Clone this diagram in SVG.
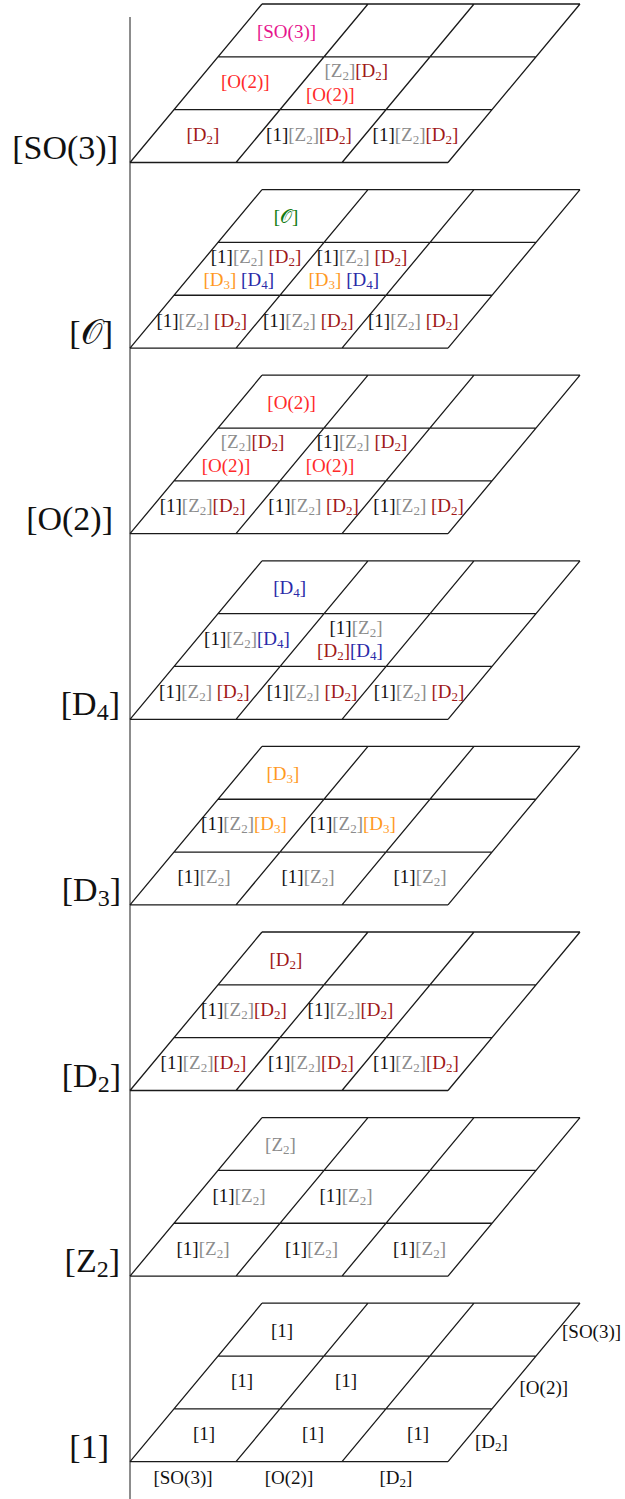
<svg xmlns="http://www.w3.org/2000/svg" width="625" height="1499" viewBox="0 0 625 1499">
<style>
.t{font-family:"Liberation Serif","DejaVu Serif",serif;font-size:19px;text-anchor:middle;fill:#111}
.L{font-size:34px;text-anchor:end}
.st{text-anchor:start}
.s{font-size:13px;baseline-shift:-3px}
.L .s{font-size:24px;baseline-shift:-5px}
.g{fill:#8c8c8c}.r{fill:#a01818}.o{fill:#ff2a2a}.m{fill:#e6148c}.gr{fill:#117a11}.y{fill:#ff9a1f}.b{fill:#2a2aa8}
.grid{fill:none;stroke:#1a1a1a;stroke-width:1.3}
.axis{stroke:#1a1a1a;stroke-width:1}
</style>
<defs>
<path id="grid" class="grid" d="M130,0H448M174,-52.83H492M218,-105.67H536M262,-158.5H580M130,0L262,-158.5M236,0L368,-158.5M342,0L474,-158.5M448,0L580,-158.5"/>
</defs>
<g id="connectors">
<line class="axis" x1="130" y1="17" x2="130" y2="1499"/>
</g>
<g id="layer-SO3">
<use href="#grid" y="162.5"/>
<text class="t L" x="118" y="158.5">[SO(3)]</text>
<text class="t r" x="203" y="141">[D<tspan class="s">2</tspan>]</text>
<text class="t" x="309" y="141">[1]<tspan class="g">[Z<tspan class="s">2</tspan>]</tspan><tspan class="r">[D<tspan class="s">2</tspan>]</tspan></text>
<text class="t" x="415.5" y="141">[1]<tspan class="g">[Z<tspan class="s">2</tspan>]</tspan><tspan class="r">[D<tspan class="s">2</tspan>]</tspan></text>
<text class="t o" x="245.3" y="88">[O(2)]</text>
<text class="t" x="356.3" y="77"><tspan class="g">[Z<tspan class="s">2</tspan>]</tspan><tspan class="r">[D<tspan class="s">2</tspan>]</tspan></text>
<text class="t o" x="330.3" y="100.5">[O(2)]</text>
<text class="t m" x="286.5" y="37.5">[SO(3)]</text>
</g>
<g id="layer-O">
<use href="#grid" y="348.1"/>
<text class="t L" x="113" y="344.1">[𝒪]</text>
<text class="t" x="201.7" y="326.6">[1]<tspan class="g">[Z<tspan class="s">2</tspan>]</tspan> <tspan class="r">[D<tspan class="s">2</tspan>]</tspan></text>
<text class="t" x="308.3" y="326.6">[1]<tspan class="g">[Z<tspan class="s">2</tspan>]</tspan> <tspan class="r">[D<tspan class="s">2</tspan>]</tspan></text>
<text class="t" x="413.3" y="326.6">[1]<tspan class="g">[Z<tspan class="s">2</tspan>]</tspan> <tspan class="r">[D<tspan class="s">2</tspan>]</tspan></text>
<text class="t" x="256" y="262.6">[1]<tspan class="g">[Z<tspan class="s">2</tspan>]</tspan> <tspan class="r">[D<tspan class="s">2</tspan>]</tspan></text>
<text class="t" x="238.7" y="286.1"><tspan class="y">[D<tspan class="s">3</tspan>]</tspan> <tspan class="b">[D<tspan class="s">4</tspan>]</tspan></text>
<text class="t" x="362" y="262.6">[1]<tspan class="g">[Z<tspan class="s">2</tspan>]</tspan> <tspan class="r">[D<tspan class="s">2</tspan>]</tspan></text>
<text class="t" x="343.8" y="286.1"><tspan class="y">[D<tspan class="s">3</tspan>]</tspan> <tspan class="b">[D<tspan class="s">4</tspan>]</tspan></text>
<text class="t gr" x="286" y="223.1">[𝒪]</text>
</g>
<g id="layer-O2">
<use href="#grid" y="533.7"/>
<text class="t L" x="113" y="529.7">[O(2)]</text>
<text class="t" x="202.6" y="512.2">[1]<tspan class="g">[Z<tspan class="s">2</tspan>]</tspan><tspan class="r">[D<tspan class="s">2</tspan>]</tspan></text>
<text class="t" x="313.6" y="512.2">[1]<tspan class="g">[Z<tspan class="s">2</tspan>]</tspan> <tspan class="r">[D<tspan class="s">2</tspan>]</tspan></text>
<text class="t" x="418.6" y="512.2">[1]<tspan class="g">[Z<tspan class="s">2</tspan>]</tspan> <tspan class="r">[D<tspan class="s">2</tspan>]</tspan></text>
<text class="t" x="252.6" y="448.2"><tspan class="g">[Z<tspan class="s">2</tspan>]</tspan><tspan class="r">[D<tspan class="s">2</tspan>]</tspan></text>
<text class="t o" x="226" y="471.7">[O(2)]</text>
<text class="t" x="362" y="448.2">[1]<tspan class="g">[Z<tspan class="s">2</tspan>]</tspan> <tspan class="r">[D<tspan class="s">2</tspan>]</tspan></text>
<text class="t o" x="330" y="471.7">[O(2)]</text>
<text class="t o" x="291.6" y="408.7">[O(2)]</text>
</g>
<g id="layer-D4">
<use href="#grid" y="719.3"/>
<text class="t L" x="120" y="715.3">[D<tspan class="s">4</tspan>]</text>
<text class="t" x="204.4" y="697.8">[1]<tspan class="g">[Z<tspan class="s">2</tspan>]</tspan> <tspan class="r">[D<tspan class="s">2</tspan>]</tspan></text>
<text class="t" x="312" y="697.8">[1]<tspan class="g">[Z<tspan class="s">2</tspan>]</tspan> <tspan class="r">[D<tspan class="s">2</tspan>]</tspan></text>
<text class="t" x="419" y="697.8">[1]<tspan class="g">[Z<tspan class="s">2</tspan>]</tspan> <tspan class="r">[D<tspan class="s">2</tspan>]</tspan></text>
<text class="t" x="247" y="644.8">[1]<tspan class="g">[Z<tspan class="s">2</tspan>]</tspan><tspan class="b">[D<tspan class="s">4</tspan>]</tspan></text>
<text class="t" x="356" y="633.8">[1]<tspan class="g">[Z<tspan class="s">2</tspan>]</tspan></text>
<text class="t" x="350" y="657.3"><tspan class="r">[D<tspan class="s">2</tspan>]</tspan><tspan class="b">[D<tspan class="s">4</tspan>]</tspan></text>
<text class="t b" x="289.6" y="594.3">[D<tspan class="s">4</tspan>]</text>
</g>
<g id="layer-D3">
<use href="#grid" y="904.9"/>
<text class="t L" x="121" y="900.9">[D<tspan class="s">3</tspan>]</text>
<text class="t" x="204" y="883.4">[1]<tspan class="g">[Z<tspan class="s">2</tspan>]</tspan></text>
<text class="t" x="308" y="883.4">[1]<tspan class="g">[Z<tspan class="s">2</tspan>]</tspan></text>
<text class="t" x="420" y="883.4">[1]<tspan class="g">[Z<tspan class="s">2</tspan>]</tspan></text>
<text class="t" x="244" y="830.4">[1]<tspan class="g">[Z<tspan class="s">2</tspan>]</tspan><tspan class="y">[D<tspan class="s">3</tspan>]</tspan></text>
<text class="t" x="353" y="830.4">[1]<tspan class="g">[Z<tspan class="s">2</tspan>]</tspan><tspan class="y">[D<tspan class="s">3</tspan>]</tspan></text>
<text class="t y" x="283" y="779.9">[D<tspan class="s">3</tspan>]</text>
</g>
<g id="layer-D2">
<use href="#grid" y="1090.5"/>
<text class="t L" x="121" y="1086.5">[D<tspan class="s">2</tspan>]</text>
<text class="t" x="203.5" y="1069">[1]<tspan class="g">[Z<tspan class="s">2</tspan>]</tspan><tspan class="r">[D<tspan class="s">2</tspan>]</tspan></text>
<text class="t" x="311" y="1069">[1]<tspan class="g">[Z<tspan class="s">2</tspan>]</tspan><tspan class="r">[D<tspan class="s">2</tspan>]</tspan></text>
<text class="t" x="416" y="1069">[1]<tspan class="g">[Z<tspan class="s">2</tspan>]</tspan><tspan class="r">[D<tspan class="s">2</tspan>]</tspan></text>
<text class="t" x="244" y="1016">[1]<tspan class="g">[Z<tspan class="s">2</tspan>]</tspan><tspan class="r">[D<tspan class="s">2</tspan>]</tspan></text>
<text class="t" x="350.5" y="1016">[1]<tspan class="g">[Z<tspan class="s">2</tspan>]</tspan><tspan class="r">[D<tspan class="s">2</tspan>]</tspan></text>
<text class="t r" x="286" y="965.5">[D<tspan class="s">2</tspan>]</text>
</g>
<g id="layer-Z2">
<use href="#grid" y="1276.1"/>
<text class="t L" x="120" y="1272.1">[Z<tspan class="s">2</tspan>]</text>
<text class="t" x="203" y="1254.6">[1]<tspan class="g">[Z<tspan class="s">2</tspan>]</tspan></text>
<text class="t" x="311.5" y="1254.6">[1]<tspan class="g">[Z<tspan class="s">2</tspan>]</tspan></text>
<text class="t" x="419.5" y="1254.6">[1]<tspan class="g">[Z<tspan class="s">2</tspan>]</tspan></text>
<text class="t" x="239" y="1201.6">[1]<tspan class="g">[Z<tspan class="s">2</tspan>]</tspan></text>
<text class="t" x="346" y="1201.6">[1]<tspan class="g">[Z<tspan class="s">2</tspan>]</tspan></text>
<text class="t g" x="280.5" y="1151.1">[Z<tspan class="s">2</tspan>]</text>
</g>
<g id="layer-1">
<use href="#grid" y="1461.7"/>
<text class="t L" x="109" y="1457.7">[1]</text>
<text class="t" x="204" y="1440.2">[1]</text>
<text class="t" x="313" y="1440.2">[1]</text>
<text class="t" x="418" y="1440.2">[1]</text>
<text class="t" x="242" y="1387.2">[1]</text>
<text class="t" x="346" y="1387.2">[1]</text>
<text class="t" x="282" y="1336.7">[1]</text>
<text class="t" x="183" y="1484">[SO(3)]</text>
<text class="t" x="289" y="1484">[O(2)]</text>
<text class="t" x="396" y="1484">[D<tspan class="s">2</tspan>]</text>
<text class="t st" x="562" y="1338">[SO(3)]</text>
<text class="t st" x="519.5" y="1394">[O(2)]</text>
<text class="t st" x="475" y="1448">[D<tspan class="s">2</tspan>]</text>
</g>
</svg>
